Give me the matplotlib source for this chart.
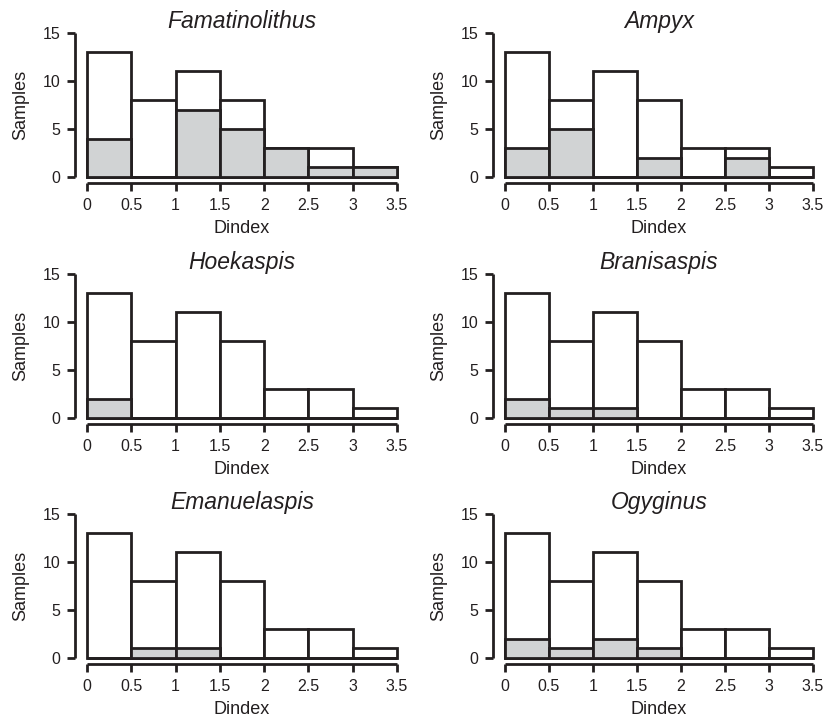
import numpy as np
import matplotlib
matplotlib.use("Agg")
from matplotlib import pyplot as plt

plt.rcParams['font.family'] = ['Liberation Sans', 'DejaVu Sans']

bin_edges = [0, 0.5, 1, 1.5, 2, 2.5, 3, 3.5]
total = [13, 8, 11, 8, 3, 3, 1]

taxa = ["Famatinolithus", "Ampyx", "Hoekaspis",
        "Branisaspis", "Emanuelaspis", "Ogyginus"]
famatinolithus = [4, 0, 7, 5, 3, 1, 1]
ampyx = [3, 5, 0, 2, 0, 2, 0]
hoekaspis = [2, 0, 0, 0, 0, 0, 0]
branisaspis = [2, 1, 1, 0, 0, 0, 0]
emanuelaspis = [0, 1, 1, 0, 0, 0, 0]
ogyginus = [2, 1, 2, 1, 0, 0, 0]
counts = [famatinolithus, ampyx, hoekaspis, branisaspis, emanuelaspis, ogyginus]

x_ticks = [0, 0.5, 1, 1.5, 2, 2.5, 3, 3.5]
x_labels = ["0", "0.5", "1", "1.5", "2", "2.5", "3", "3.5"]
y_ticks = [0, 5, 10, 15]

gray = '#d1d3d4'
ink = '#231f20'
lw = 2.0

fig = plt.figure(figsize=(8.27, 7.2), dpi=100)

lefts = [87/827, 505/827]
widths = [310/827, 308/827]
bottoms = [1 - 177/720, 1 - 418/720, 1 - 658/720]
height = 144/720

edges = np.array(bin_edges)
widths_bin = np.diff(edges)

for i, (name, c) in enumerate(zip(taxa, counts)):
    row, col = divmod(i, 2)
    ax = fig.add_axes([lefts[col], bottoms[row], widths[col], height])
    ax.bar(edges[:-1], total, width=widths_bin, align='edge', color='white',
           edgecolor=ink, linewidth=lw, clip_on=False, zorder=2)
    ax.bar(edges[:-1], c, width=widths_bin, align='edge', color=gray,
           edgecolor=ink, linewidth=lw, clip_on=False, zorder=3)
    ax.set_xlim(0, 3.5)
    ax.set_ylim(0, 15)
    for s in ['top', 'right']:
        ax.spines[s].set_visible(False)
    ax.spines['left'].set_position(('outward', 8.4))
    ax.spines['bottom'].set_position(('outward', 4.3))
    ax.spines['left'].set_bounds(0, 15)
    ax.spines['bottom'].set_bounds(0, 3.5)
    for s in ['left', 'bottom']:
        ax.spines[s].set_linewidth(lw)
        ax.spines[s].set_color(ink)
        ax.spines[s].set_capstyle('butt')
    ax.set_xticks(x_ticks)
    ax.set_xticklabels(x_labels)
    ax.set_yticks(y_ticks)
    ax.tick_params(axis='both', direction='out', length=5.5, width=lw,
                   color=ink, labelsize=11.5, labelcolor=ink, pad=5)
    ax.tick_params(axis='x', pad=5.5)
    ax.set_xlabel("Dindex", fontsize=13, labelpad=5, color=ink)
    ax.set_ylabel("Samples", fontsize=13, labelpad=10, color=ink)
    ax.set_title(name, fontsize=16.5, style='italic', pad=2, color=ink)

plt.savefig("out.png", dpi=100)
